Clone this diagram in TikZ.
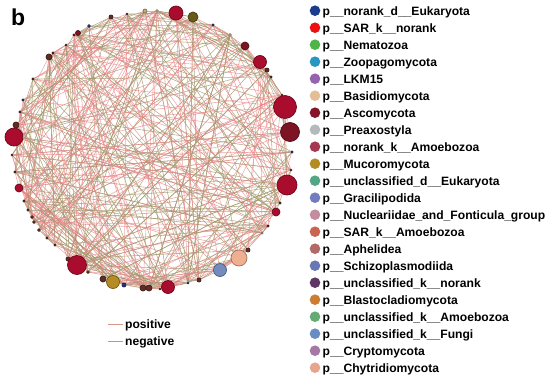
\documentclass[tikz,border=0pt]{standalone}
\usepackage{fontspec}
\setmainfont{Liberation Sans}
% network node colours
\definecolor{crim}{RGB}{170,12,45}
\definecolor{dred}{RGB}{125,20,35}
\definecolor{brn}{RGB}{95,45,35}
\definecolor{dblue}{RGB}{40,50,120}
\definecolor{gold}{RGB}{180,140,35}
\definecolor{bgrey}{RGB}{115,140,190}
\definecolor{peach}{RGB}{240,175,145}
\definecolor{tanc}{RGB}{200,170,120}
\definecolor{greyc}{RGB}{170,170,160}
\definecolor{olivd}{RGB}{105,90,25}
% edge colours
\definecolor{posc}{RGB}{236,135,138}
\definecolor{negc}{RGB}{160,150,105}
\definecolor{poslg}{RGB}{215,150,135}
\definecolor{neglg}{RGB}{150,175,130}
% legend colours
\definecolor{lc1}{RGB}{25,60,140}
\definecolor{lc2}{RGB}{235,15,20}
\definecolor{lc3}{RGB}{80,180,70}
\definecolor{lc4}{RGB}{40,150,195}
\definecolor{lc5}{RGB}{150,100,175}
\definecolor{lc6}{RGB}{230,190,150}
\definecolor{lc7}{RGB}{135,20,40}
\definecolor{lc8}{RGB}{180,185,188}
\definecolor{lc9}{RGB}{165,55,80}
\definecolor{lc10}{RGB}{180,140,35}
\definecolor{lc11}{RGB}{85,165,135}
\definecolor{lc12}{RGB}{115,125,190}
\definecolor{lc13}{RGB}{195,140,160}
\definecolor{lc14}{RGB}{200,100,80}
\definecolor{lc15}{RGB}{180,105,105}
\definecolor{lc16}{RGB}{105,120,180}
\definecolor{lc17}{RGB}{95,55,100}
\definecolor{lc18}{RGB}{205,125,50}
\definecolor{lc19}{RGB}{100,170,115}
\definecolor{lc20}{RGB}{105,140,195}
\definecolor{lc21}{RGB}{165,120,165}
\definecolor{lc22}{RGB}{230,165,140}
\pgfdeclarelayer{edgelayer}
\pgfsetlayers{edgelayer,main}
\tikzset{
  netnode/.style={circle, inner sep=0pt, draw=#1!65!black, fill=#1, line width=0.7pt},
  posedge/.style={draw=posc, line width=0.55pt, opacity=0.75},
  negedge/.style={draw=negc, line width=0.55pt, opacity=0.8},
  legdot/.style={circle, inner sep=0pt, minimum size=10.6pt, fill=#1},
  legtext/.style={anchor=base west, inner sep=0pt, font=\bfseries\fontsize{12.1}{14}\selectfont},
  lgline/.style={line width=0.9pt, draw=#1},
}
\begin{document}
\begin{tikzpicture}[x=1pt, y=-1pt]
\useasboundingbox (0,0) rectangle (550,381);
% panel label
\node[anchor=base west, inner sep=0pt, font=\bfseries\fontsize{23}{26}\selectfont] (lab) at (11,25) {b};
% network nodes
\foreach \x/\y/\r/\c [count=\k] in {
 176/13/7/crim, 193/17/5/olivd, 145/11/2/tanc, 157/11/1.5/tanc, 111/17/2/brn,
 89/26/1.5/dblue, 78/33/2.5/dred, 74/35/1.2/crim, 53/53/1.2/brn, 49/57/3/brn,
 33/79/1.2/brn, 23/100/1.2/dblue, 20/112/1.2/brn, 16/125/3/brn, 14/137/9/crim,
 15/172/1.2/brn, 19/188/4/crim, 24/201/1.2/brn, 28/210/1.2/brn, 32/217/1.5/brn,
 34/222/1.5/brn, 39/230/1.5/brn, 47/238/1.2/brn, 55/245/1.2/brn, 68/259/2/brn,
 77/265/9.5/crim, 103/279/3/brn, 113/282/6.5/gold, 124/285/2/dblue, 143/288/3/brn,
 149/288/3/brn, 168/287/6.5/crim, 188/283/1/dblue, 199/280/2/brn, 220/270/6.5/bgrey,
 239/258/8/peach, 248/250/2/brn, 262/233/1.2/greyc, 268/226/1.2/brn, 276/212/4/crim,
 280/203/1.2/brn, 287/185/10/crim, 292/152/1.2/dblue, 290/132/9.5/dred, 285/107/11.5/crim,
 271/77/1.2/brn, 267/70/2/brn, 260/62/6.5/crim, 245/46/4/dred, 230/35/1.5/tanc,
 213/25/1.2/dblue, 127/14/1/brn, 12/155/1/brn, 291/170/1/brn, 282/95/1/brn,
 160/289/1/brn, 88/272/1.5/brn, 66/45/1/brn}
 \node[netnode=\c, minimum size={2*\r pt}] (n\k) at (\x,\y) {};
% edges
\pgfmathsetseed{7}
\begin{pgfonlayer}{edgelayer}
\foreach \e in {1,...,420}{
  \pgfmathtruncatemacro{\ea}{random(1,58)}
  \pgfmathtruncatemacro{\eb}{random(1,58)}
  \pgfmathtruncatemacro{\ec}{random(0,9)}
  \ifnum\ea=\eb\relax\else
    \ifnum\ec<5\relax \draw[posedge] (n\ea) -- (n\eb); \else \draw[negedge] (n\ea) -- (n\eb); \fi
  \fi
}
\end{pgfonlayer}
% sign legend
\coordinate (pa) at (108,324.5); \coordinate (pb) at (123,324.5);
\coordinate (na) at (108,341.5); \coordinate (nb) at (123,341.5);
\draw[lgline=poslg] (pa) -- (pb);
\draw[lgline=neglg] (na) -- (nb);
\node[legtext] (tpos) at (125,328.5) {positive};
\node[legtext] (tneg) at (125,345.5) {negative};
% phylum legend
\foreach \t/\c [count=\k from 0] in {
 p\_\_norank\_d\_\_Eukaryota/lc1,
 p\_\_SAR\_k\_\_norank/lc2,
 p\_\_Nematozoa/lc3,
 p\_\_Zoopagomycota/lc4,
 p\_\_LKM15/lc5,
 p\_\_Basidiomycota/lc6,
 p\_\_Ascomycota/lc7,
 p\_\_Preaxostyla/lc8,
 p\_\_norank\_k\_\_Amoebozoa/lc9,
 p\_\_Mucoromycota/lc10,
 p\_\_unclassified\_d\_\_Eukaryota/lc11,
 p\_\_Gracilipodida/lc12,
 p\_\_Nucleariidae\_and\_Fonticula\_group/lc13,
 p\_\_SAR\_k\_\_Amoebozoa/lc14,
 p\_\_Aphelidea/lc15,
 p\_\_Schizoplasmodiida/lc16,
 p\_\_unclassified\_k\_\_norank/lc17,
 p\_\_Blastocladiomycota/lc18,
 p\_\_unclassified\_k\_\_Amoebozoa/lc19,
 p\_\_unclassified\_k\_\_Fungi/lc20,
 p\_\_Cryptomycota/lc21,
 p\_\_Chytridiomycota/lc22}{
  \pgfmathsetmacro{\yy}{10.7+17*\k}
  \node[legdot=\c] (d\k) at (315,\yy) {};
  \node[legtext] (t\k) at (322.5,\yy+4.3) {\t};
}
\end{tikzpicture}
\end{document}
